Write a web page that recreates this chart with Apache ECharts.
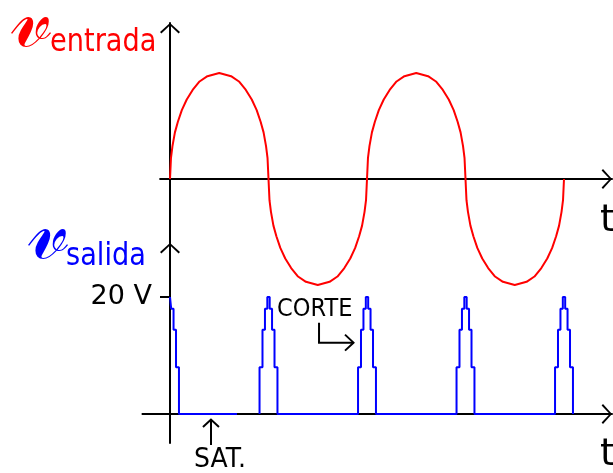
<!DOCTYPE html>
<html>
<head>
<meta charset="utf-8">
<script src="https://cdn.jsdelivr.net/npm/echarts@6/dist/echarts.min.js"></script>
<style>
  html, body { margin: 0; padding: 0; background: #fff; }
  #chart { width: 613px; height: 473px; }
</style>
</head>
<body>
<div id="chart"></div>
<script>
// ---- data ---------------------------------------------------------------
// Input wave: shape of one half-cycle (phase inside the half-cycle, level relative to the peak)
const archPhase = [0, 0.01, 0.025, 0.05, 0.08, 0.12, 0.17, 0.23, 0.3, 0.38, 0.5,
                   0.62, 0.7, 0.77, 0.83, 0.88, 0.92, 0.95, 0.975, 0.99, 1];
const archLevel = [0, 0.2, 0.31, 0.44, 0.54, 0.65, 0.75, 0.84, 0.92, 0.97, 1,
                   0.97, 0.92, 0.84, 0.75, 0.65, 0.54, 0.44, 0.31, 0.2, 0];
const halfCycleSign = [1, -1, 1, -1];

// Output: cut-off spikes at each zero crossing of the input (volts)
const pulseCenters = [0, 1, 2, 3, 4];
const stepLevels = [8, 14.4, 18, 20];                 // staircase levels, bottom to top
const stepHalfWidths = [0.091, 0.061, 0.036, 0.012];  // half width of each level
const satEnd = 0.68;                                  // blue baseline after the first spike stops here
const outTicks = [20];

// ---- layout (pixels) ----------------------------------------------------
const X0 = 170, PX_T = 98.5;          // t = 0 column, pixels per half-cycle
const X_RIGHT = 612;                  // arrow tips of both time axes
const TOP = { zeroY: 179, pxPerUnit: 106, tipY: 23, bottomY: 290, tMin: -0.1 };
const BOT = { zeroY: 414, pxPerUnit: 5.85, tipY: 243, bottomY: 443, tMin: -0.28 };
const LABEL_RIGHT = 152;              // right edge of the "20 V" label

const FONT = '"DejaVu Sans", sans-serif';
const ARROW = 'path://M10,0 L20,9 L18.6,10.4 L11,3.2 L11,11 L9,11 L9,3.2 L1.4,10.4 L0,9 Z';

// ---- series data --------------------------------------------------------
const inputData = [];
halfCycleSign.forEach(function (s, k) {
  archPhase.forEach(function (p, i) {
    if (k > 0 && i === 0) return;
    inputData.push([k + p, s * archLevel[i]]);
  });
});

function spike(c, withLeft) {
  const pts = [];
  const n = stepLevels.length;
  if (withLeft) {
    for (let i = 0; i < n; i++) {
      pts.push([c - stepHalfWidths[i], i === 0 ? 0 : stepLevels[i - 1]]);
      pts.push([c - stepHalfWidths[i], stepLevels[i]]);
    }
  } else {
    pts.push([c, stepLevels[n - 1]]);
  }
  for (let i = n - 1; i >= 0; i--) {
    pts.push([c + stepHalfWidths[i], stepLevels[i]]);
    pts.push([c + stepHalfWidths[i], i === 0 ? 0 : stepLevels[i - 1]]);
  }
  return pts;
}

const satData = spike(pulseCenters[0], false).concat([[satEnd, 0]]);
let spikeData = [];
pulseCenters.slice(1).forEach(function (c) { spikeData = spikeData.concat(spike(c, true)); });

// ---- axes ---------------------------------------------------------------
function gridFor(g) {
  const tMax = (X_RIGHT - X0) / PX_T;
  return {
    grid: {
      left: X0 + g.tMin * PX_T,
      width: (tMax - g.tMin) * PX_T,
      top: g.tipY,
      height: g.bottomY - g.tipY,
      containLabel: false,
      outerBoundsMode: 'none'
    },
    tMax: tMax,
    yMax: (g.zeroY - g.tipY) / g.pxPerUnit,
    yMin: (g.zeroY - g.bottomY) / g.pxPerUnit
  };
}
const gTop = gridFor(TOP), gBot = gridFor(BOT);

const axisLine = {
  onZero: true,
  symbol: ['none', ARROW],
  symbolSize: [20, 11],
  symbolOffset: [0, -5.5],
  lineStyle: { color: '#000', width: 2 }
};
function plainAxis(extra) {
  return Object.assign({
    type: 'value',
    axisLine: axisLine,
    axisTick: { show: false },
    axisLabel: { show: false },
    splitLine: { show: false }
  }, extra);
}

const option = {
  animation: false,
  backgroundColor: '#ffffff',
  grid: [gTop.grid, gBot.grid],
  xAxis: [
    plainAxis({ gridIndex: 0, min: TOP.tMin, max: gTop.tMax }),
    plainAxis({ gridIndex: 1, min: BOT.tMin, max: gBot.tMax })
  ],
  yAxis: [
    plainAxis({ gridIndex: 0, min: gTop.yMin, max: gTop.yMax }),
    plainAxis({
      gridIndex: 1, min: gBot.yMin, max: gBot.yMax,
      axisTick: { show: true, customValues: outTicks, length: 10,
                  lineStyle: { color: '#000', width: 2 } },
      axisLabel: { show: true, customValues: outTicks,
                   margin: gBot.grid.left - LABEL_RIGHT,
                   formatter: function (v) { return v + ' V'; },
                   padding: [9, 0, 0, 0],
                   color: '#000', fontFamily: FONT, fontSize: 27 }
    })
  ],
  series: [
    { name: 'entrada', type: 'line', xAxisIndex: 0, yAxisIndex: 0, data: inputData,
      symbol: 'none', clip: false, lineStyle: { color: '#ff0000', width: 2 } },
    { name: 'salida', type: 'line', xAxisIndex: 1, yAxisIndex: 1, data: satData,
      symbol: 'none', clip: false, lineStyle: { color: '#0000ff', width: 2 } },
    { name: 'salida', type: 'line', xAxisIndex: 1, yAxisIndex: 1, data: spikeData,
      symbol: 'none', clip: false, lineStyle: { color: '#0000ff', width: 2 } }
  ]
};

const chart = echarts.init(document.getElementById('chart'), null, { renderer: 'canvas' });
chart.setOption(option);

// ---- annotations --------------------------------------------------------
function px(t, v) { return chart.convertToPixel({ gridIndex: 1 }, [t, v]); }

function label(text, x, y, size, color, align, scaleX) {
  return {
    type: 'text', x: x, y: y, scaleX: scaleX || 1, z: 10,
    style: { text: text, fill: color, align: align || 'left', verticalAlign: 'middle',
             font: size + 'px ' + FONT }
  };
}
function stroke(points) {
  return { type: 'polyline', z: 10, shape: { points: points },
           style: { stroke: '#000', lineWidth: 2, fill: null } };
}

const corteAt = px(1.086, 17.9);
const corteArrow = [px(1.513, 15.6), px(1.513, 12.2), px(1.863, 12.2)];
const corteTip = corteArrow[2];
const satTip = px(0.416, -0.94), satTail = px(0.416, -5.3);
const satAt = px(0.508, -7.9);

chart.setOption({
  graphic: [
    // axis titles
    label('\u{1D4CB}', 32, 24, 84, '#ff0000', 'center'),
    label('entrada', 50, 43, 32, '#ff0000', 'left', 0.85),
    label('\u{1D4CB}', 49, 236, 84, '#0000ff', 'center'),
    label('salida', 66, 257, 32, '#0000ff', 'left', 0.85),
    label('t', 600, 221, 38, '#000', 'left'),
    label('t', 600, 455, 38, '#000', 'left'),
    // CORTE
    label('CORTE', corteAt[0], corteAt[1], 25, '#000', 'left', 0.9),
    stroke(corteArrow),
    stroke([[corteTip[0] - 8.5, corteTip[1] - 8], corteTip, [corteTip[0] - 8.5, corteTip[1] + 8]]),
    // SAT.
    stroke([satTail, satTip]),
    stroke([[satTip[0] - 8, satTip[1] + 7.5], satTip, [satTip[0] + 8, satTip[1] + 7.5]]),
    label('SAT.', satAt[0], satAt[1], 27, '#000', 'center', 0.93)
  ]
});
</script>
</body>
</html>
